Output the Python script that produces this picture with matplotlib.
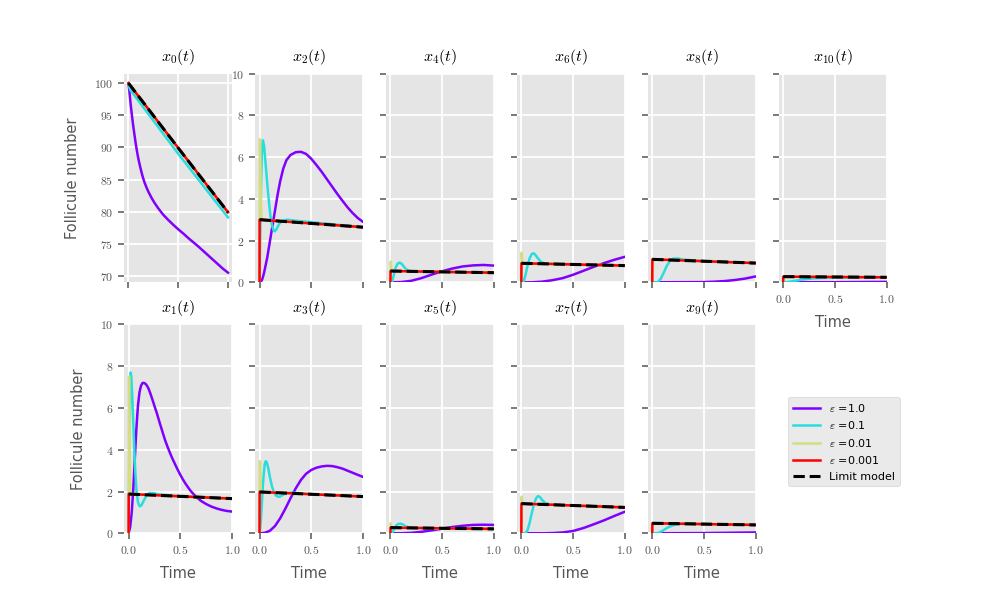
import matplotlib
matplotlib.use("Agg")
import matplotlib.pyplot as plt
from matplotlib.ticker import FixedLocator, FuncFormatter

# ---------------- data (t, value) ----------------
eps_labels = ["1.0", "0.1", "0.01", "0.001"]
time_ticks = [0.0, 0.5, 1.0]
y_ticks_main = [0, 2, 4, 6, 8, 10]
y_ticks_x0 = [70, 75, 80, 85, 90, 95, 100]

# x0
x0_eps1 = [(0, 100), (0.01, 98.6), (0.02, 97.0), (0.03, 95.6), (0.04, 94.3), (0.05, 93.1),
           (0.06, 92.0), (0.07, 90.9), (0.08, 89.9), (0.09, 89.0), (0.1, 88.2), (0.12, 86.8),
           (0.14, 85.6), (0.16, 84.6), (0.18, 83.8), (0.2, 83.1), (0.23, 82.2), (0.26, 81.4),
           (0.3, 80.5), (0.35, 79.5), (0.4, 78.7), (0.45, 77.95), (0.5, 77.25), (0.55, 76.6),
           (0.6, 75.9), (0.65, 75.25), (0.7, 74.6), (0.75, 73.9), (0.8, 73.2), (0.85, 72.5),
           (0.9, 71.8), (0.95, 71.1), (1.0, 70.5)]
x0_eps01 = [(0, 100), (0.01, 99.3), (0.02, 98.9), (0.04, 98.5), (0.5, 89.0), (1.0, 79.1)]
x0_eps001 = [(0, 100), (0.005, 99.9), (0.5, 89.9), (1.0, 79.9)]
x0_eps0001 = [(0, 100), (0.5, 89.9), (1.0, 79.9)]
x0_limit = [(0, 100), (0.5, 89.9), (1.0, 79.9)]

# x2
x2_eps1 = [(0, 0), (0.02, 0.08), (0.03, 0.2), (0.04, 0.38), (0.05, 0.6), (0.075, 1.2),
           (0.1, 1.95), (0.125, 2.7), (0.15, 3.45), (0.175, 4.2), (0.2, 4.85), (0.23, 5.45),
           (0.26, 5.85), (0.3, 6.1), (0.35, 6.23), (0.4, 6.25), (0.45, 6.15), (0.5, 5.92),
           (0.55, 5.62), (0.6, 5.3), (0.65, 4.95), (0.7, 4.6), (0.75, 4.25), (0.8, 3.92),
           (0.85, 3.6), (0.9, 3.32), (0.95, 3.08), (1.0, 2.9)]
x2_eps01 = [(0, 0), (0.008, 2.5), (0.016, 5.0), (0.025, 6.5), (0.033, 6.8), (0.045, 6.5),
            (0.06, 5.6), (0.075, 4.7), (0.09, 3.9), (0.105, 3.2), (0.12, 2.75), (0.135, 2.5),
            (0.148, 2.44), (0.165, 2.55), (0.19, 2.8), (0.22, 2.95), (0.27, 3.0), (0.35, 2.95),
            (1.0, 2.64)]
x2_eps001 = [(0, 0), (0.002, 4.5), (0.004, 6.85), (0.007, 6.0), (0.012, 4.0), (0.018, 3.0),
             (0.025, 2.99), (1.0, 2.64)]
x2_eps0001 = [(0, 0), (0.001, 3.0), (0.5, 2.82), (1.0, 2.64)]
x2_limit = [(0, 3.0), (0.5, 2.82), (1.0, 2.64)]

# x4
x4_eps1 = [(0, 0), (0.1, 0.01), (0.2, 0.07), (0.3, 0.2), (0.4, 0.37), (0.5, 0.53), (0.6, 0.66),
           (0.7, 0.76), (0.8, 0.81), (0.9, 0.83), (1.0, 0.8)]
x4_eps01 = [(0, 0), (0.015, 0.0), (0.03, 0.3), (0.05, 0.7), (0.07, 0.9), (0.09, 0.94),
            (0.11, 0.88), (0.13, 0.75), (0.15, 0.63), (0.18, 0.55), (0.22, 0.52), (0.5, 0.5),
            (1.0, 0.46)]
x4_eps001 = [(0, 0), (0.003, 0.99), (0.008, 0.7), (0.015, 0.55), (1.0, 0.46)]
x4_eps0001 = [(0, 0), (0.001, 0.54), (0.5, 0.5), (1.0, 0.46)]
x4_limit = [(0, 0.54), (0.5, 0.5), (1.0, 0.46)]

# x6
x6_eps1 = [(0, 0), (0.1, 0.0), (0.2, 0.03), (0.3, 0.1), (0.4, 0.2), (0.5, 0.36), (0.6, 0.55),
           (0.7, 0.74), (0.8, 0.92), (0.9, 1.08), (1.0, 1.22)]
x6_eps01 = [(0, 0), (0.02, 0.0), (0.04, 0.35), (0.06, 0.8), (0.08, 1.15), (0.1, 1.35),
            (0.115, 1.39), (0.13, 1.35), (0.16, 1.15), (0.19, 0.98), (0.22, 0.92), (0.26, 0.9),
            (0.5, 0.855), (1.0, 0.8)]
x6_eps001 = [(0, 0), (0.003, 1.42), (0.008, 1.1), (0.015, 0.92), (1.0, 0.8)]
x6_eps0001 = [(0, 0), (0.001, 0.91), (0.5, 0.855), (1.0, 0.8)]
x6_limit = [(0, 0.91), (0.5, 0.855), (1.0, 0.8)]

# x8
x8_eps1 = [(0, 0), (0.5, 0.01), (0.6, 0.03), (0.7, 0.06), (0.8, 0.11), (0.9, 0.18), (1.0, 0.28)]
x8_eps01 = [(0, 0), (0.05, 0.0), (0.08, 0.15), (0.11, 0.45), (0.14, 0.78), (0.17, 1.02),
            (0.2, 1.13), (0.25, 1.14), (0.3, 1.09), (0.5, 1.01), (1.0, 0.92)]
x8_eps001 = [(0, 0), (0.005, 0.6), (0.01, 1.05), (0.02, 1.1), (1.0, 0.92)]
x8_eps0001 = [(0, 0), (0.001, 1.1), (0.5, 1.01), (1.0, 0.92)]
x8_limit = [(0, 1.1), (0.5, 1.01), (1.0, 0.92)]

# x10
x10_eps1 = [(0, 0), (0.5, 0.005), (1.0, 0.02)]
x10_eps01 = [(0, 0), (0.05, 0.02), (0.1, 0.06), (0.15, 0.1), (0.2, 0.14), (0.3, 0.19),
             (0.4, 0.21), (0.5, 0.22), (1.0, 0.23)]
x10_eps001 = [(0, 0), (0.01, 0.2), (0.02, 0.27), (1.0, 0.24)]
x10_eps0001 = [(0, 0), (0.001, 0.27), (0.5, 0.255), (1.0, 0.24)]
x10_limit = [(0, 0.27), (0.5, 0.255), (1.0, 0.24)]

# x1
x1_eps1 = [(0, 0), (0.015, 0.3), (0.03, 1.0), (0.045, 2.1), (0.06, 3.6), (0.075, 5.0),
           (0.09, 6.1), (0.105, 6.75), (0.12, 7.07), (0.135, 7.2), (0.15, 7.2), (0.165, 7.15),
           (0.18, 7.05), (0.195, 6.9), (0.21, 6.7), (0.225, 6.48), (0.24, 6.25), (0.255, 6.02),
           (0.27, 5.8), (0.285, 5.55), (0.3, 5.3), (0.325, 4.9), (0.35, 4.5), (0.375, 4.16),
           (0.4, 3.85), (0.425, 3.56), (0.45, 3.3), (0.475, 3.04), (0.5, 2.8), (0.525, 2.58),
           (0.55, 2.38), (0.575, 2.2), (0.6, 2.03), (0.625, 1.89), (0.65, 1.76), (0.7, 1.55),
           (0.75, 1.4), (0.8, 1.28), (0.85, 1.19), (0.9, 1.12), (0.95, 1.07), (1.0, 1.04)]
x1_eps01 = [(0, 0), (0.005, 2.5), (0.01, 5.0), (0.015, 6.9), (0.02, 7.7), (0.026, 7.5),
            (0.035, 6.6), (0.045, 5.3), (0.055, 4.0), (0.065, 2.9), (0.077, 2.0), (0.09, 1.5),
            (0.1, 1.35), (0.11, 1.29), (0.125, 1.35), (0.145, 1.55), (0.17, 1.78), (0.2, 1.93),
            (0.24, 1.92), (0.3, 1.86), (0.5, 1.77), (1.0, 1.66)]
x1_eps001 = [(0, 0), (0.002, 4.0), (0.004, 7.5), (0.007, 6.0), (0.011, 3.5), (0.016, 2.0),
             (0.022, 1.88), (0.5, 1.77), (1.0, 1.66)]
x1_eps0001 = [(0, 0), (0.001, 1.88), (0.5, 1.77), (1.0, 1.66)]
x1_limit = [(0, 1.88), (0.5, 1.77), (1.0, 1.66)]

# x3
x3_eps1 = [(0, 0), (0.05, 0.02), (0.1, 0.12), (0.15, 0.35), (0.2, 0.72), (0.25, 1.18),
           (0.3, 1.68), (0.35, 2.15), (0.4, 2.55), (0.45, 2.85), (0.5, 3.03), (0.55, 3.14),
           (0.6, 3.2), (0.65, 3.23), (0.7, 3.22), (0.75, 3.17), (0.8, 3.1), (0.85, 3.0),
           (0.9, 2.9), (0.95, 2.8), (1.0, 2.7)]
x3_eps01 = [(0, 0), (0.01, 0.4), (0.02, 1.2), (0.03, 2.1), (0.04, 2.8), (0.05, 3.3),
            (0.06, 3.45), (0.07, 3.4), (0.085, 3.1), (0.1, 2.7), (0.12, 2.25), (0.14, 1.95),
            (0.16, 1.8), (0.18, 1.75), (0.2, 1.76), (0.23, 1.85), (0.27, 1.94), (0.32, 1.95),
            (0.5, 1.87), (1.0, 1.76)]
x3_eps001 = [(0, 0), (0.002, 2.0), (0.004, 3.45), (0.007, 2.9), (0.012, 2.1), (0.02, 1.98),
             (1.0, 1.76)]
x3_eps0001 = [(0, 0), (0.001, 1.98), (0.5, 1.87), (1.0, 1.76)]
x3_limit = [(0, 1.98), (0.5, 1.87), (1.0, 1.76)]

# x5
x5_eps1 = [(0, 0), (0.1, 0.0), (0.2, 0.02), (0.3, 0.07), (0.4, 0.14), (0.5, 0.22), (0.6, 0.3),
           (0.7, 0.36), (0.8, 0.4), (0.9, 0.41), (1.0, 0.4)]
x5_eps01 = [(0, 0), (0.02, 0.05), (0.04, 0.25), (0.06, 0.4), (0.08, 0.45), (0.1, 0.46),
            (0.12, 0.42), (0.15, 0.33), (0.18, 0.27), (0.22, 0.25), (1.0, 0.21)]
x5_eps001 = [(0, 0), (0.003, 0.48), (0.008, 0.35), (0.015, 0.27), (1.0, 0.21)]
x5_eps0001 = [(0, 0), (0.001, 0.27), (0.5, 0.24), (1.0, 0.21)]
x5_limit = [(0, 0.27), (0.5, 0.24), (1.0, 0.21)]

# x7
x7_eps1 = [(0, 0), (0.2, 0.0), (0.3, 0.01), (0.4, 0.04), (0.5, 0.11), (0.6, 0.25), (0.7, 0.43),
           (0.8, 0.62), (0.9, 0.83), (1.0, 1.03)]
x7_eps01 = [(0, 0), (0.04, 0.0), (0.06, 0.15), (0.08, 0.5), (0.1, 0.95), (0.12, 1.35),
            (0.14, 1.65), (0.16, 1.78), (0.18, 1.74), (0.2, 1.6), (0.23, 1.45), (0.27, 1.39),
            (0.5, 1.33), (1.0, 1.24)]
x7_eps001 = [(0, 0), (0.003, 1.75), (0.008, 1.55), (0.015, 1.42), (1.0, 1.24)]
x7_eps0001 = [(0, 0), (0.001, 1.42), (0.5, 1.33), (1.0, 1.24)]
x7_limit = [(0, 1.42), (0.5, 1.33), (1.0, 1.24)]

# x9
x9_eps1 = [(0, 0), (0.5, 0.01), (1.0, 0.04)]
x9_eps01 = [(0, 0), (0.05, 0.0), (0.1, 0.12), (0.15, 0.28), (0.2, 0.38), (0.25, 0.44),
            (0.3, 0.46), (0.5, 0.44), (1.0, 0.4)]
x9_eps001 = [(0, 0), (0.005, 0.3), (0.01, 0.47), (1.0, 0.4)]
x9_eps0001 = [(0, 0), (0.001, 0.48), (0.5, 0.44), (1.0, 0.4)]
x9_limit = [(0, 0.48), (0.5, 0.44), (1.0, 0.4)]

top_row = ["x0", "x2", "x4", "x6", "x8", "x10"]
bottom_row = ["x1", "x3", "x5", "x7", "x9"]

# ---------------- style ----------------
plt.style.use("ggplot")
plt.rcParams["mathtext.fontset"] = "cm"
plt.rcParams["font.family"] = ["DejaVu Sans"]

g = globals()
series = {name: [g[f"{name}_eps1"], g[f"{name}_eps01"], g[f"{name}_eps001"],
                 g[f"{name}_eps0001"], g[f"{name}_limit"]]
          for name in top_row + bottom_row}

colors = [plt.cm.rainbow(v) for v in (0.0, 1 / 3, 2 / 3, 1.0)]

fig, axes = plt.subplots(2, 6, figsize=(9.88, 6.11), dpi=100,
                         gridspec_kw=dict(left=0.126, right=0.8973, top=0.8797,
                                          bottom=0.1272, wspace=0.2177, hspace=0.202))
axes[1, 5].remove()

label_color = "#555555"
xfmt = FuncFormatter(lambda v, p: f"${v:.1f}$")
yfmt = FuncFormatter(lambda v, p: f"${v:g}$")

handles = []
for r, row in enumerate([top_row, bottom_row]):
    for c, name in enumerate(row):
        ax = axes[r, c]
        data = series[name]
        hs = []
        for k in range(4):
            t = [p[0] for p in data[k]]
            y = [p[1] for p in data[k]]
            h, = ax.plot(t, y, color=colors[k], lw=1.8,
                         label=r"$\varepsilon$ =" + eps_labels[k])
            hs.append(h)
        t = [p[0] for p in data[4]]
        y = [p[1] for p in data[4]]
        h, = ax.plot(t, y, color="black", lw=2.2, ls="--", label="Limit model")
        hs.append(h)
        if not handles:
            handles = hs

        idx = int(name[1:])
        ax.set_title(f"$x_{{{idx}}}(t)$", fontsize=11.5, pad=9, color="black")
        ax.xaxis.set_major_locator(FixedLocator(time_ticks))
        if name == "x0":
            ax.set_xlim(-0.04, 1.04)
            ax.set_ylim(69.0, 101.5)
            ax.yaxis.set_major_locator(FixedLocator(y_ticks_x0))
        else:
            ax.set_xlim(-0.04, 1.0)
            ax.set_ylim(0, 10)
            ax.yaxis.set_major_locator(FixedLocator(y_ticks_main))
        ax.xaxis.set_major_formatter(xfmt)
        ax.yaxis.set_major_formatter(yfmt)
        ax.tick_params(axis="both", labelsize=8.5, length=4.5, width=1.1,
                       colors=label_color, direction="out")
        ax.grid(True, color="white", lw=1.3)
        for s in ax.spines.values():
            s.set_visible(False)

        show_x = (r == 1) or name == "x10"
        ax.tick_params(axis="x", labelbottom=show_x)
        if show_x:
            ax.set_xlabel("Time", fontsize=10.5, color=label_color, labelpad=6)
        show_y = name in ("x0", "x2", "x1")
        ax.tick_params(axis="y", labelleft=show_y)
        if c == 0:
            ax.set_ylabel("Follicule number", fontsize=10.5, color=label_color,
                          labelpad=10)

leg = fig.legend(handles, [h.get_label() for h in handles], loc="upper left",
                 bbox_to_anchor=(782.5 / 988, 1 - 391.5 / 611), fontsize=8,
                 handlelength=2.5, frameon=True, facecolor="#E5E5E5",
                 edgecolor="#CCCCCC")

fig.savefig("out.png", dpi=100)
